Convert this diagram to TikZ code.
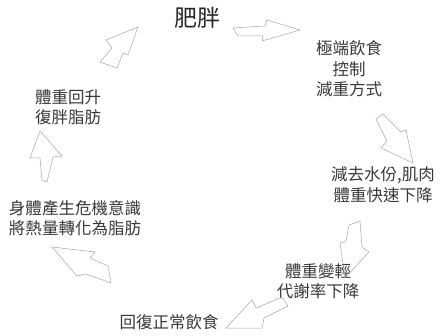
\documentclass[tikz,border=0pt]{standalone}
\usepackage{fontspec}
\newfontfamily\cjk{Noto Sans CJK TC}
\tikzset{
  lbl/.style={font=\cjk\fontsize{16.5}{20.5}\selectfont, text=black!78, align=center, inner sep=0pt},
  big/.style={font=\cjk\fontsize{23}{26}\selectfont, text=black!85, inner sep=0pt},
  blk/.style={draw=black!35, line width=0.5pt, line join=miter}
}
\begin{document}
\begin{tikzpicture}[x=1pt,y=-1pt]
\useasboundingbox (0,0) rectangle (446,336);
\node[big] (fat) at (197,18) {肥胖};
\node[lbl] (diet) at (349,69) {極端飲食\\控制\\減重方式};
\node[lbl] (water) at (383,185) {減去水份,肌肉\\體重快速下降};
\node[lbl] (light) at (318,281) {體重變輕\\代謝率下降};
\node[lbl] (normal) at (169,322) {回復正常飲食};
\node[lbl] (crisis) at (75,218) {身體產生危機意識\\將熱量轉化為脂肪};
\node[lbl] (regain) at (68,107) {體重回升\\復胖脂肪};
% block arrows
\draw[blk] (233,28) -- (265,26) -- (267,20) -- (300,30) -- (262,41) -- (263,36) -- (238,36) -- cycle;
\draw[blk] (376,119) -- (383,114) -- (401,132) -- (406,130) -- (413,163) -- (381,148) -- (387,141) -- cycle;
\draw[blk] (349,225) -- (360,221) -- (362,247) -- (369,252) -- (345,278) -- (340,243) -- (346,241) -- cycle;
\draw[blk] (288,306) -- (282,297) -- (256,308) -- (252,300) -- (226,328) -- (262,328) -- (264,318) -- cycle;
\draw[blk] (111,283) -- (108,266) -- (90,258) -- (95,252) -- (52,247) -- (77,276) -- (86,274) -- cycle;
\draw[blk] (47,182) -- (53,157) -- (62,156) -- (40,131) -- (30,158) -- (40,158) -- (42,180) -- cycle;
\draw[blk] (100,62) -- (112,48) -- (106,40) -- (138,27) -- (128,55) -- (123,53) -- (117,68) -- cycle;
\end{tikzpicture}
\end{document}
